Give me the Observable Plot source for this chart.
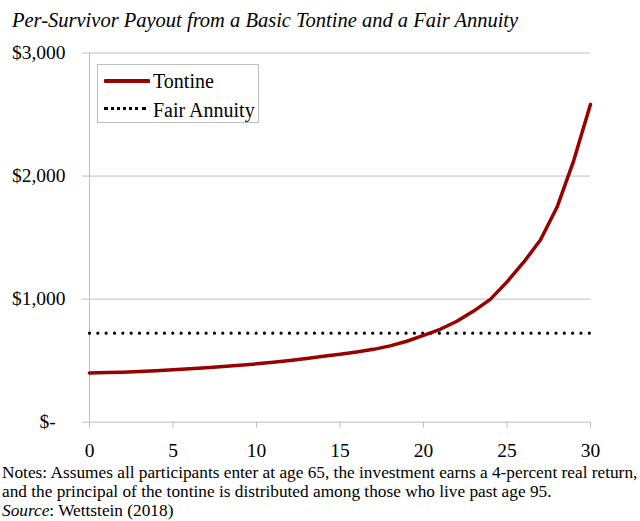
<!DOCTYPE html>
<html>
<head>
<meta charset="utf-8">
<script src="https://cdn.jsdelivr.net/npm/d3@7"></script>
<script src="https://cdn.jsdelivr.net/npm/@observablehq/plot@0.6"></script>
<style>
  html, body { margin: 0; padding: 0; background: #fff; }
  body { width: 640px; height: 521px; overflow: hidden; font-family: "Liberation Serif", "Times New Roman", serif; color: #000; }
  #title { height: 40px; position: relative; }
  #title span { position: absolute; left: 12px; top: 9px; font-style: italic; font-size: 20.5px; line-height: 22px; white-space: nowrap; }
  #chart { position: relative; height: 420px; }
  #chart svg { display: block; }
  #legend { position: absolute; left: 97px; top: 24px; width: 162px; height: 59px; border: 1px solid #bfbfbf; background: #fff; box-sizing: border-box; }
  .lg-row { position: absolute; left: 0; height: 20px; width: 100%; }
  .lg-sample { position: absolute; left: 6px; }
  .lg-label { position: absolute; left: 55px; font-size: 20px; line-height: 20px; white-space: nowrap; }
  #notes { padding-left: 2px; padding-top: 4px; font-size: 17.3px; line-height: 18.8px; white-space: nowrap; }
</style>
</head>
<body>
<div id="title"><span></span></div>
<div id="chart"></div>
<div id="notes"></div>
<script>
const titleText = "Per-Survivor Payout from a Basic Tontine and a Fair Annuity";
const years = [0,1,2,3,4,5,6,7,8,9,10,11,12,13,14,15,16,17,18,19,20,21,22,23,24,25,26,27,28,29,30];
const tontine = [400,403,406,412,419,426,434,442,452,462,474,487,502,518,536,553,571,592,620,658,705,755,820,903,998,1140,1300,1480,1748,2128,2583];
const annuityYears = [0, 30];
const annuity = [723, 723];
const seriesNames = ["Tontine", "Fair Annuity"];
const xTicks = [0,5,10,15,20,25,30];
const yTicks = [0,1000,2000,3000];
const yTickLabels = ["$-\u00a0\u00a0", "$1,000", "$2,000", "$3,000"];
const notesLines = [
  "Notes: Assumes all participants enter at age 65, the investment earns a 4-percent real return,",
  "and the principal of the tontine is distributed among those who live past age 95."
];
const sourceLabel = "Source";
const sourceText = ": Wettstein (2018)";

document.querySelector("#title span").textContent = titleText;

const tontineData = years.map((y, i) => ({year: y, value: tontine[i]}));
const annuityData = annuityYears.map((y, i) => ({year: y, value: annuity[i]}));
const grey = "#bfbfbf";

const chart = Plot.plot({
  width: 640,
  height: 420,
  marginLeft: 89,
  marginRight: 50,
  marginTop: 12.5,
  marginBottom: 38.3,
  style: {fontFamily: "Liberation Serif", fontSize: "19.5px", color: "#000", background: "#fff", overflow: "visible"},
  x: {domain: [0, 30], axis: null},
  y: {domain: [0, 3000], axis: null},
  marks: [
    Plot.gridY(yTicks.filter(d => d > 0), {stroke: grey, strokeOpacity: 1}),
    Plot.ruleY([0], {stroke: grey}),
    Plot.ruleX([0], {stroke: grey}),
    Plot.axisY(yTicks, {tickSize: 7, tickPadding: 17, stroke: grey, fill: "#000", label: null,
      tickFormat: d => yTickLabels[yTicks.indexOf(d)]}),
    Plot.axisX(xTicks, {tickSize: 6, tickPadding: 15, stroke: grey, fill: "#000", label: null, tickFormat: d => String(d)}),
    Plot.line(annuityData, {x: "year", y: "value", stroke: "#000", strokeWidth: 3.2, strokeDasharray: "0 8.33", strokeLinecap: "round"}),
    Plot.line(tontineData, {x: "year", y: "value", stroke: "#990000", strokeWidth: 3.5})
  ]
});
const chartDiv = document.getElementById("chart");
chartDiv.appendChild(chart);

// legend
const legend = document.createElement("div");
legend.id = "legend";
legend.innerHTML = `
  <div class="lg-row" style="top:6px">
    <div class="lg-sample" style="top:8px;width:46px;height:3.5px;background:#990000;border-radius:1px"></div>
    <div class="lg-label"></div>
  </div>
  <div class="lg-row" style="top:35px">
    <div class="lg-sample" style="top:7px;width:42px;border-top:3px dotted #000"></div>
    <div class="lg-label"></div>
  </div>`;
const labels = legend.querySelectorAll(".lg-label");
labels[0].textContent = seriesNames[0];
labels[1].textContent = seriesNames[1];
chartDiv.appendChild(legend);

// notes
const notes = document.getElementById("notes");
notesLines.forEach(t => { const d = document.createElement("div"); d.textContent = t; notes.appendChild(d); });
const src = document.createElement("div");
const em = document.createElement("i"); em.textContent = sourceLabel;
src.appendChild(em); src.appendChild(document.createTextNode(sourceText));
notes.appendChild(src);
</script>
</body>
</html>
